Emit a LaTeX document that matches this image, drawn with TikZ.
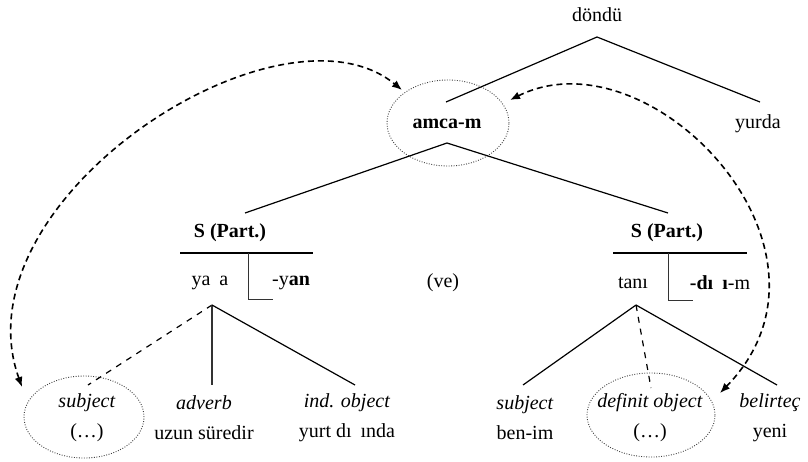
\documentclass[tikz,border=0pt]{standalone}
\usepackage{fontspec}
\setmainfont{Liberation Serif}
\usetikzlibrary{arrows.meta,shapes.geometric}

\tikzset{
  oval/.style={ellipse, draw=black!75, line width=0.45pt,
    dash pattern=on 0.45pt off 0.8pt, inner sep=0pt},
  link/.style={line width=0.8pt, dash pattern=on 3pt off 2pt,
    {Latex[length=5pt,width=4pt]}-{Latex[length=5pt,width=4pt]}},
  branch/.style={line width=0.6pt},
  bar/.style={line width=1.1pt},
  leaf/.style={align=center, font=\fontsize{10}{15}\selectfont},
}
\newcommand{\gap}{\hspace{.45em}}

\begin{document}
\begin{tikzpicture}[x=0.5pt,y=-0.5pt]
            \useasboundingbox (0,0) rectangle (808,461);

            \node (dondu) at (597,15) {döndü};
            \node (amca) at (447,124) {\textbf{amca-m}};
            \node (yurda) at (758,124) {yurda};
            \node [oval, minimum width=61pt, minimum height=43pt] (ovA) at (448,123) {};

            \node (spL) at (230,233) {\textbf{S (Part.)}};
            \node (yasa) at (210,283) {ya\gap a};
            \node (yan) at (291,283) {-y\textbf{an}};
            \node (ve) at (443,283) {(ve)};

            \node (spR) at (667,233) {\textbf{S (Part.)}};
            \node (tani) at (633,283) {tanı};
            \node (digim) at (720,283) {\textbf{-dı\gap ı}-m};

            \node [leaf] (subjL) at (87,418) {\textit{subject}\\(…)};
            \node [leaf] (adv) at (204,418) {\textit{adverb}\\uzun süredir};
            \node [leaf] (indobj) at (347,418) {\textit{ind. object}\\yurt dı\gap ında};
            \node [leaf] (subjR) at (525,418) {\textit{subject}\\ben-im};
            \node [leaf] (defobj) at (650,418) {\textit{definit object}\\(…)};
            \node [leaf] (belirtec) at (770,418) {\textit{belirteç}\\yeni};
            \node [oval, minimum width=60pt, minimum height=41pt] (ovL) at (84,417) {};
            \node [oval, minimum width=64pt, minimum height=42pt] (ovR) at (651,415) {};

            % tree
            \coordinate (r0) at (597,37);
            \coordinate (r1) at (446,102);
            \coordinate (r2) at (760,102);
            \draw [branch] (r1) -- (r0) -- (r2);

            \coordinate (m0) at (447,143);
            \coordinate (m1) at (245,213);
            \coordinate (m2) at (668,213);
            \draw [branch] (m1) -- (m0) -- (m2);

            \coordinate (bL) at (180,253);
            \coordinate (bL') at (313,253);
            \coordinate (kL) at (248,253);
            \coordinate (kL') at (248,299);
            \coordinate (kL'') at (273,299);
            \draw [bar] (bL) -- (bL');
            \draw [line width=0.5pt, black!80] (kL) -- (kL') -- (kL'');

            \coordinate (bR) at (613,253);
            \coordinate (bR') at (747,253);
            \coordinate (kR) at (668,253);
            \coordinate (kR') at (668,300);
            \coordinate (kR'') at (693,300);
            \draw [bar] (bR) -- (bR');
            \draw [line width=0.5pt, black!80] (kR) -- (kR') -- (kR'');

            \coordinate (pL) at (212,305);
            \coordinate (pL1) at (88,385);
            \coordinate (pL2) at (212,385);
            \coordinate (pL3) at (355,385);
            \draw [branch, dashed] (pL) -- (pL1);
            \draw [branch, black!80] (pL) -- (pL2);
            \draw [branch] (pL) -- (pL3);

            \coordinate (pR) at (636,305);
            \coordinate (pR1) at (523,385);
            \coordinate (pR2) at (651,388);
            \coordinate (pR3) at (777,385);
            \draw [branch] (pR) -- (pR1);
            \draw [branch, dashed] (pR) -- (pR2);
            \draw [branch] (pR) -- (pR3);

            % coreference
            \coordinate (eL) at (22,387);
            \coordinate (eA1) at (402,90);
            \coordinate (eA2) at (510,100);
            \coordinate (eR) at (720,393);
            \draw [link] (eL) .. controls (-45,200) and (280,-10) .. (eA1);
            \draw [link] (eA2) .. controls (650,30) and (860,250) .. (eR);
        \end{tikzpicture}
\end{document}
